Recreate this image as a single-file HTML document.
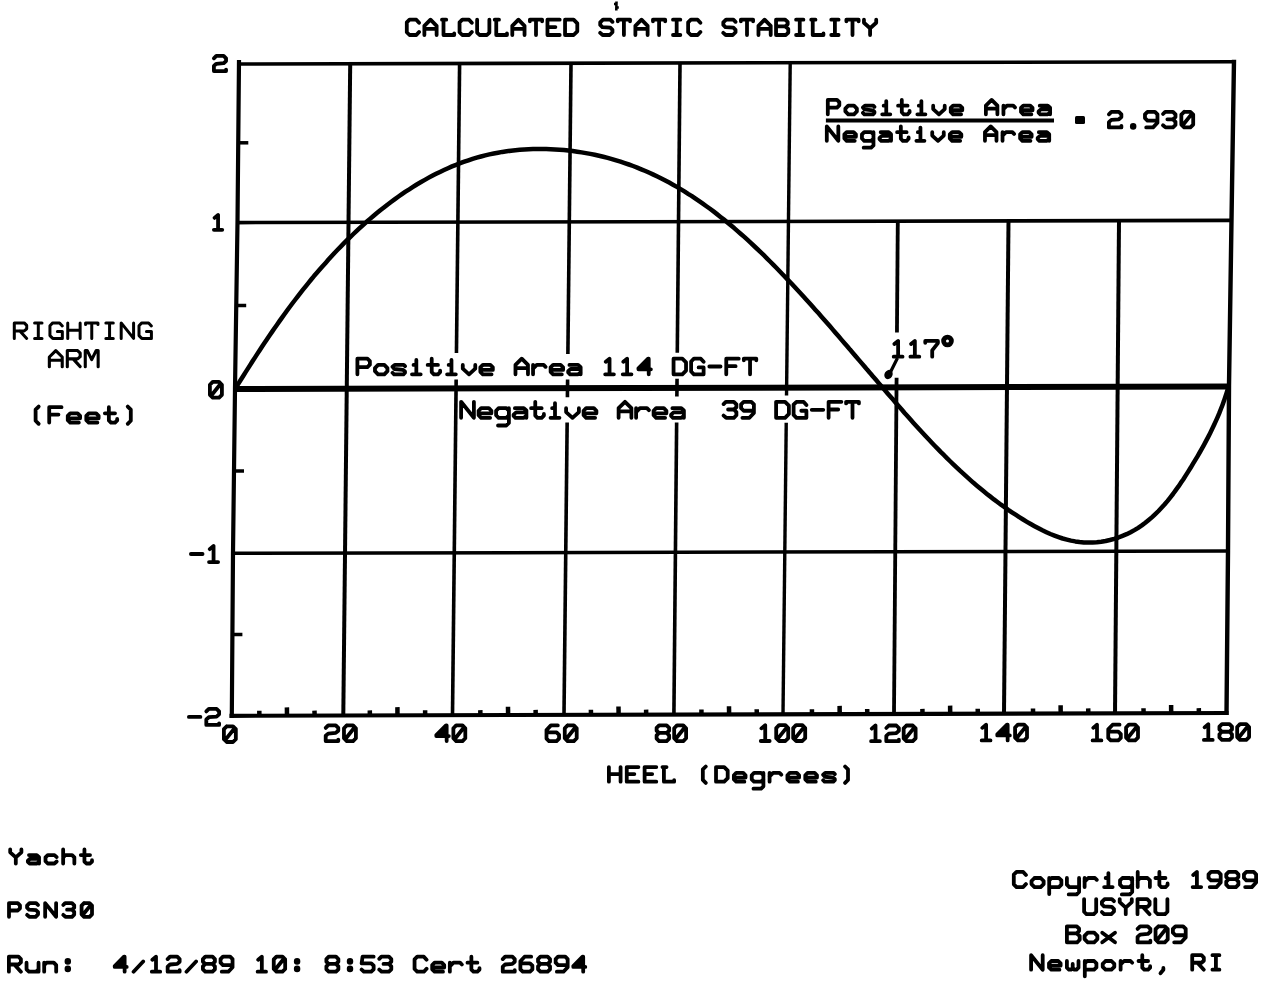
<!DOCTYPE html>
<html><head><meta charset="utf-8"><style>
html,body{margin:0;padding:0;background:#fff;width:1262px;height:987px;overflow:hidden}
svg{display:block;filter:grayscale(1)}
.t{font-family:"Liberation Mono",monospace;font-weight:normal;fill:#000;stroke:#000;stroke-linejoin:round}
.t text{vector-effect:non-scaling-stroke}
.t line{stroke:#000}
.s path{fill:none;stroke:#000;stroke-linecap:round;stroke-linejoin:round}
.h{font-family:"Liberation Mono",monospace;fill:#000;fill-opacity:0;white-space:pre}
</style></head><body>
<svg width="1262" height="987" viewBox="0 0 1262 987">
<rect width="1262" height="987" fill="#fff"/>
<g stroke="#000" stroke-linecap="butt">
<line x1="237" y1="64.0" x2="1236" y2="61.7" stroke-width="3.6"/><line x1="236" y1="222.6" x2="1232" y2="220.4" stroke-width="3.6"/><line x1="233" y1="389.0" x2="1231" y2="386.5" stroke-width="6.0"/><line x1="231" y1="553.3" x2="1229" y2="551.0" stroke-width="3.5"/><line x1="229.5" y1="715.8" x2="1228.5" y2="713.0" stroke-width="4.2"/><polyline fill="none" stroke-width="4.2" points="239,60 237.5,222 235,389 233,553 231.8,717.8"/><polyline fill="none" stroke-width="4.4" points="1234,59.8 1231.5,220 1229,386 1228,551 1226.5,715"/><line x1="350.2" y1="64" x2="343.3" y2="715" stroke-width="4.0"/><line x1="459.6" y1="64" x2="456.45" y2="353" stroke-width="3.6"/><line x1="456.16" y1="379.6" x2="452.5" y2="715" stroke-width="3.6"/><line x1="571.0" y1="64" x2="567.88" y2="354.1" stroke-width="3.6"/><line x1="567.61" y1="379.4" x2="567.42" y2="397.2" stroke-width="3.6"/><line x1="567.15" y1="422.5" x2="564.0" y2="715" stroke-width="3.6"/><line x1="680.0" y1="64" x2="677.29" y2="352.8" stroke-width="3.6"/><line x1="677.05" y1="378.8" x2="676.88" y2="396.6" stroke-width="3.6"/><line x1="676.64" y1="422.5" x2="673.9" y2="715" stroke-width="3.6"/><line x1="790.2" y1="64" x2="786.53" y2="395.6" stroke-width="3.4"/><line x1="786.23" y1="422.7" x2="783.0" y2="715" stroke-width="3.4"/><line x1="897.8" y1="221" x2="896.94" y2="332.4" stroke-width="3.8"/><line x1="896.59" y1="377.7" x2="894.0" y2="714" stroke-width="3.8"/><line x1="1008.5" y1="221" x2="1004.0" y2="714" stroke-width="4.0"/><line x1="1119.0" y1="221" x2="1115.0" y2="714" stroke-width="4.0"/>
<line x1="259.4" y1="715.7" x2="259.3" y2="710.7" stroke-width="4.5"/><line x1="287.0" y1="715.6" x2="286.9" y2="707.4" stroke-width="4.5"/><line x1="314.6" y1="715.6" x2="314.5" y2="710.6" stroke-width="4.5"/><line x1="369.9" y1="715.4" x2="369.8" y2="710.4" stroke-width="4.5"/><line x1="397.5" y1="715.3" x2="397.4" y2="707.1" stroke-width="4.5"/><line x1="425.2" y1="715.3" x2="425.1" y2="710.3" stroke-width="4.5"/><line x1="480.4" y1="715.1" x2="480.3" y2="710.1" stroke-width="4.5"/><line x1="508.1" y1="715.0" x2="508.0" y2="706.8" stroke-width="4.5"/><line x1="535.7" y1="714.9" x2="535.6" y2="709.9" stroke-width="4.5"/><line x1="591.0" y1="714.8" x2="590.9" y2="709.8" stroke-width="4.5"/><line x1="618.6" y1="714.7" x2="618.5" y2="706.5" stroke-width="4.5"/><line x1="646.2" y1="714.6" x2="646.1" y2="709.6" stroke-width="4.5"/><line x1="701.5" y1="714.5" x2="701.4" y2="709.5" stroke-width="4.5"/><line x1="729.1" y1="714.4" x2="729.0" y2="706.2" stroke-width="4.5"/><line x1="756.8" y1="714.3" x2="756.7" y2="709.3" stroke-width="4.5"/><line x1="812.0" y1="714.2" x2="811.9" y2="709.2" stroke-width="4.5"/><line x1="839.7" y1="714.1" x2="839.6" y2="705.9" stroke-width="4.5"/><line x1="867.3" y1="714.0" x2="867.2" y2="709.0" stroke-width="4.5"/><line x1="922.5" y1="713.9" x2="922.4" y2="708.9" stroke-width="4.5"/><line x1="950.2" y1="713.8" x2="950.1" y2="705.6" stroke-width="4.5"/><line x1="977.8" y1="713.7" x2="977.7" y2="708.7" stroke-width="4.5"/><line x1="1033.1" y1="713.5" x2="1033.0" y2="708.5" stroke-width="4.5"/><line x1="1060.7" y1="713.5" x2="1060.6" y2="705.3" stroke-width="4.5"/><line x1="1088.3" y1="713.4" x2="1088.2" y2="708.4" stroke-width="4.5"/><line x1="1143.6" y1="713.2" x2="1143.5" y2="708.2" stroke-width="4.5"/><line x1="1171.2" y1="713.2" x2="1171.1" y2="705.0" stroke-width="4.5"/><line x1="1198.9" y1="713.1" x2="1198.8" y2="708.1" stroke-width="4.5"/><line x1="238.3" y1="142.8" x2="248.3" y2="142.8" stroke-width="3.5"/><line x1="236.2" y1="305.5" x2="246.2" y2="305.5" stroke-width="3.5"/><line x1="234" y1="471" x2="244" y2="471" stroke-width="3.5"/><line x1="232.4" y1="634.5" x2="242.4" y2="634.5" stroke-width="3.5"/>
<path d="M235.7 388.0 L238.1 384.1 L240.5 380.3 L242.9 376.5 L245.3 372.6 L247.7 368.9 L250.1 365.1 L252.5 361.3 L254.9 357.6 L257.3 353.9 L259.7 350.2 L262.1 346.5 L264.6 342.8 L267.0 339.2 L269.5 335.5 L272.0 331.9 L274.5 328.3 L277.0 324.7 L279.5 321.1 L282.0 317.6 L284.6 314.0 L287.1 310.5 L289.7 307.0 L292.3 303.5 L295.0 300.0 L297.6 296.6 L300.3 293.1 L303.0 289.7 L305.7 286.3 L308.5 282.9 L311.2 279.5 L314.0 276.1 L316.9 272.8 L319.7 269.5 L322.6 266.2 L325.6 262.9 L328.5 259.6 L331.5 256.3 L334.5 253.0 L337.6 249.8 L340.7 246.6 L343.8 243.4 L347.0 240.2 L350.2 237.1 L353.4 234.0 L356.7 230.9 L359.9 227.9 L363.3 224.8 L366.6 221.8 L370.0 218.9 L373.4 216.0 L376.9 213.1 L380.3 210.3 L383.9 207.5 L387.4 204.7 L391.0 202.0 L394.6 199.4 L398.2 196.8 L401.9 194.2 L405.5 191.7 L409.3 189.3 L413.0 186.9 L416.8 184.5 L420.6 182.3 L424.4 180.1 L428.3 177.9 L432.2 175.8 L436.1 173.8 L440.0 171.9 L444.0 170.0 L448.0 168.2 L452.0 166.4 L456.1 164.8 L460.2 163.2 L464.3 161.7 L468.4 160.3 L472.6 158.9 L476.7 157.7 L481.0 156.5 L485.2 155.4 L489.4 154.4 L493.7 153.5 L498.0 152.7 L502.3 151.9 L506.7 151.3 L511.0 150.7 L515.4 150.2 L519.8 149.8 L524.2 149.5 L528.6 149.2 L533.0 149.0 L537.4 149.0 L541.8 149.0 L546.2 149.0 L550.6 149.2 L555.1 149.4 L559.5 149.7 L563.9 150.1 L568.3 150.5 L572.8 151.1 L577.2 151.7 L581.6 152.4 L585.9 153.1 L590.3 153.9 L594.7 154.8 L599.0 155.8 L603.3 156.8 L607.7 157.9 L612.0 159.1 L616.2 160.4 L620.5 161.7 L624.7 163.1 L628.9 164.5 L633.1 166.0 L637.2 167.6 L641.3 169.3 L645.4 171.0 L649.4 172.8 L653.4 174.6 L657.4 176.5 L661.4 178.5 L665.3 180.5 L669.2 182.6 L673.0 184.7 L676.9 186.9 L680.6 189.1 L684.4 191.4 L688.1 193.8 L691.9 196.1 L695.5 198.6 L699.2 201.1 L702.8 203.6 L706.4 206.2 L710.0 208.8 L713.5 211.4 L717.0 214.1 L720.5 216.9 L724.0 219.6 L727.4 222.4 L730.8 225.3 L734.2 228.1 L737.6 231.1 L740.9 234.0 L744.3 236.9 L747.6 239.9 L750.8 242.9 L754.1 246.0 L757.3 249.0 L760.6 252.1 L763.8 255.2 L766.9 258.3 L770.1 261.5 L773.2 264.6 L776.3 267.8 L779.4 271.0 L782.5 274.2 L785.6 277.4 L788.6 280.6 L791.7 283.8 L794.7 287.1 L797.7 290.3 L800.7 293.5 L803.7 296.8 L806.6 300.0 L809.6 303.3 L812.5 306.6 L815.5 309.9 L818.4 313.1 L821.3 316.4 L824.2 319.7 L827.1 323.0 L830.0 326.3 L832.8 329.6 L835.7 333.0 L838.6 336.3 L841.4 339.6 L844.3 342.9 L847.2 346.2 L850.0 349.6 L852.9 352.9 L855.7 356.2 L858.6 359.6 L861.4 362.9 L864.3 366.2 L867.1 369.6 L870.0 372.9 L872.8 376.3 L875.7 379.6 L878.5 382.9 L881.4 386.3 L884.3 389.6 L887.2 393.0 L890.1 396.3 L893.0 399.6 L895.9 403.0 L898.8 406.3 L901.7 409.6 L904.6 413.0 L907.6 416.3 L910.5 419.6 L913.5 422.9 L916.5 426.2 L919.5 429.5 L922.5 432.7 L925.5 436.0 L928.6 439.3 L931.6 442.5 L934.7 445.7 L937.8 448.9 L940.9 452.1 L944.1 455.2 L947.2 458.4 L950.4 461.5 L953.6 464.6 L956.8 467.6 L960.0 470.7 L963.3 473.7 L966.6 476.7 L969.9 479.6 L973.2 482.6 L976.6 485.4 L980.0 488.3 L983.4 491.1 L986.9 493.9 L990.4 496.6 L993.9 499.4 L997.4 502.0 L1001.0 504.7 L1004.6 507.2 L1008.2 509.8 L1011.9 512.3 L1015.6 514.7 L1019.3 517.1 L1023.1 519.5 L1026.9 521.8 L1030.7 524.0 L1034.6 526.2 L1038.5 528.3 L1042.4 530.3 L1046.4 532.2 L1050.4 534.0 L1054.5 535.6 L1058.6 537.1 L1062.7 538.5 L1066.9 539.6 L1071.0 540.6 L1075.3 541.4 L1079.5 542.0 L1083.8 542.4 L1088.1 542.6 L1092.5 542.5 L1096.8 542.2 L1101.2 541.7 L1105.6 541.0 L1109.9 540.0 L1114.2 538.8 L1118.4 537.5 L1122.5 535.9 L1126.6 534.2 L1130.6 532.2 L1134.4 530.1 L1138.2 527.8 L1141.8 525.4 L1145.3 522.8 L1148.7 520.0 L1152.1 517.1 L1155.3 514.1 L1158.5 511.0 L1161.5 507.8 L1164.5 504.5 L1167.4 501.1 L1170.2 497.6 L1173.0 494.0 L1175.6 490.4 L1178.3 486.7 L1180.8 482.9 L1183.4 479.2 L1185.8 475.4 L1188.2 471.6 L1190.6 467.8 L1192.9 463.9 L1195.2 460.1 L1197.5 456.3 L1199.7 452.5 L1201.9 448.6 L1204.0 444.8 L1206.1 440.9 L1208.1 437.1 L1210.1 433.2 L1212.0 429.3 L1213.9 425.3 L1215.7 421.4 L1217.5 417.4 L1219.2 413.4 L1220.8 409.3 L1222.4 405.2 L1223.9 401.1 L1225.3 396.9 L1226.7 392.7 L1228.0 388.5" fill="none" stroke-width="4.5" stroke-linejoin="round"/>
<path d="M897.5 358 L889 375" stroke-width="3.2" fill="none"/><ellipse cx="888.5" cy="374.5" rx="4" ry="4.8" transform="rotate(30 888.5 374.5)" stroke="none" fill="#000"/><rect x="1075" y="116" width="10" height="8" rx="1.5" fill="#000" stroke="none"/><line x1="825.9" y1="120.4" x2="1054" y2="120.4" stroke-width="4.0"/><circle cx="947.5" cy="341" r="3.9" fill="none" stroke-width="4.8"/><path d="M616.5 1.5 L616.3 10.5 M614 4 L616.5 4 M616.5 7.5 L618.8 7.5" stroke-width="2.6" fill="none"/>
</g>
<g class="s"><path d="M419.04 22.76 L416.29 19.70 L409.55 19.70 L406.80 22.45 L406.80 32.25 L409.55 35.00 L416.29 35.00 L419.04 31.94 M424.38 35.00 L424.38 25.82 L430.50 19.70 L436.62 25.82 L436.62 35.00 M424.38 28.88 L436.62 28.88 M441.97 19.70 L446.25 19.70 M443.50 19.70 L443.50 35.00 L454.21 35.00 L454.21 33.47 M471.79 22.76 L469.04 19.70 L462.30 19.70 L459.55 22.45 L459.55 32.25 L462.30 35.00 L469.04 35.00 L471.79 31.94 M477.13 19.70 L477.13 32.55 L479.58 35.00 L486.92 35.00 L489.37 32.55 L489.37 19.70 M494.72 19.70 L499.00 19.70 M496.25 19.70 L496.25 35.00 L506.96 35.00 L506.96 33.47 M512.30 35.00 L512.30 25.82 L518.42 19.70 L524.54 25.82 L524.54 35.00 M512.30 28.88 L524.54 28.88 M529.88 21.23 L529.88 19.70 L542.12 19.70 L542.12 21.23 M536.00 19.70 L536.00 35.00 M559.70 19.70 L547.46 19.70 L547.46 35.00 L559.70 35.00 M547.46 27.04 L555.42 27.04 M565.05 35.00 L565.05 19.70 L573.62 19.70 L577.29 23.37 L577.29 31.33 L573.62 35.00 L565.05 35.00 M612.45 21.84 L610.31 19.70 L602.97 19.70 L600.21 22.45 L600.21 24.90 L602.36 27.04 L610.31 27.66 L612.45 29.80 L612.45 32.25 L609.70 35.00 L602.66 35.00 L600.21 32.86 M617.80 21.23 L617.80 19.70 L630.04 19.70 L630.04 21.23 M623.92 19.70 L623.92 35.00 M635.38 35.00 L635.38 25.82 L641.50 19.70 L647.62 25.82 L647.62 35.00 M635.38 28.88 L647.62 28.88 M652.96 21.23 L652.96 19.70 L665.20 19.70 L665.20 21.23 M659.08 19.70 L659.08 35.00 M672.99 19.70 L680.34 19.70 M676.67 19.70 L676.67 35.00 M672.99 35.00 L680.34 35.00 M700.37 22.76 L697.62 19.70 L690.88 19.70 L688.13 22.45 L688.13 32.25 L690.88 35.00 L697.62 35.00 L700.37 31.94 M735.54 21.84 L733.39 19.70 L726.05 19.70 L723.30 22.45 L723.30 24.90 L725.44 27.04 L733.39 27.66 L735.54 29.80 L735.54 32.25 L732.78 35.00 L725.74 35.00 L723.30 32.86 M740.88 21.23 L740.88 19.70 L753.12 19.70 L753.12 21.23 M747.00 19.70 L747.00 35.00 M758.46 35.00 L758.46 25.82 L764.58 19.70 L770.70 25.82 L770.70 35.00 M758.46 28.88 L770.70 28.88 M776.04 35.00 L776.04 19.70 L785.22 19.70 L787.67 21.84 L787.67 24.29 L785.22 26.43 L776.04 26.43 M785.22 26.43 L788.28 28.88 L788.28 32.55 L785.84 35.00 L776.04 35.00 M796.08 19.70 L803.42 19.70 M799.75 19.70 L799.75 35.00 M796.08 35.00 L803.42 35.00 M811.21 19.70 L815.49 19.70 M812.74 19.70 L812.74 35.00 L823.45 35.00 L823.45 33.47 M831.24 19.70 L838.59 19.70 M834.91 19.70 L834.91 35.00 M831.24 35.00 L838.59 35.00 M846.38 21.23 L846.38 19.70 L858.62 19.70 L858.62 21.23 M852.50 19.70 L852.50 35.00 M863.96 19.70 L863.96 22.76 L870.08 28.27 L876.20 22.76 L876.20 19.70 M870.08 28.27 L870.08 35.00" stroke-width="3.80"/></g><text class="h" x="404.9" y="36.9" font-size="29.0" textLength="473.2" lengthAdjust="spacingAndGlyphs" xml:space="preserve">CALCULATED STATIC STABILITY</text><g class="s"><path d="M213.90 58.33 L216.33 55.90 L223.63 55.90 L226.06 58.33 L226.06 61.07 L223.63 63.20 L216.33 63.80 L213.90 65.93 L213.90 71.10 L226.06 71.10 L226.06 69.58" stroke-width="3.80"/></g><text class="h" x="212.0" y="73.0" font-size="28.8" textLength="16.0" lengthAdjust="spacingAndGlyphs" xml:space="preserve">2</text><g class="s"><path d="M214.50 217.88 L218.07 214.90 L218.07 229.80 M213.90 229.80 L222.24 229.80" stroke-width="3.80"/></g><text class="h" x="212.0" y="231.7" font-size="28.4" textLength="12.0" lengthAdjust="spacingAndGlyphs" xml:space="preserve">1</text><g class="s"><path d="M212.74 381.90 L219.06 381.90 L221.91 384.74 L221.91 394.86 L219.06 397.70 L212.74 397.70 L209.90 394.86 L209.90 384.74 L212.74 381.90 M212.11 394.54 L219.70 385.06" stroke-width="3.80"/></g><text class="h" x="208.0" y="399.6" font-size="29.8" textLength="15.7" lengthAdjust="spacingAndGlyphs" xml:space="preserve">0</text><g class="s"><path d="M190.90 554.00 L202.56 554.00 M209.68 549.14 L213.56 545.90 L213.56 562.10 M209.03 562.10 L218.10 562.10" stroke-width="3.80"/></g><text class="h" x="189.0" y="564.0" font-size="30.4" textLength="31.0" lengthAdjust="spacingAndGlyphs" xml:space="preserve">-1</text><g class="s"><path d="M188.90 716.90 L200.42 716.90 M206.30 711.46 L208.86 708.90 L216.54 708.90 L219.10 711.46 L219.10 714.34 L216.54 716.58 L208.86 717.22 L206.30 719.46 L206.30 724.90 L219.10 724.90 L219.10 723.30" stroke-width="3.80"/></g><text class="h" x="187.0" y="726.8" font-size="30.1" textLength="34.0" lengthAdjust="spacingAndGlyphs" xml:space="preserve">-2</text><g class="s"><path d="M226.73 726.30 L233.01 726.30 L235.83 729.13 L235.83 739.17 L233.01 742.00 L226.73 742.00 L223.90 739.17 L223.90 729.13 L226.73 726.30 M226.10 738.86 L233.63 729.44" stroke-width="3.80"/></g><text class="h" x="222.0" y="743.9" font-size="29.6" textLength="15.0" lengthAdjust="spacingAndGlyphs" xml:space="preserve">0</text><g class="s"><path d="M325.70 727.91 L328.21 725.40 L335.75 725.40 L338.26 727.91 L338.26 730.74 L335.75 732.94 L328.21 733.56 L325.70 735.76 L325.70 741.10 L338.26 741.10 L338.26 739.53 M346.79 725.40 L353.07 725.40 L355.90 728.23 L355.90 738.27 L353.07 741.10 L346.79 741.10 L343.97 738.27 L343.97 728.23 L346.79 725.40 M346.17 737.96 L353.70 728.54" stroke-width="3.80"/></g><text class="h" x="323.8" y="743.0" font-size="29.6" textLength="34.0" lengthAdjust="spacingAndGlyphs" xml:space="preserve">20</text><g class="s"><path d="M446.66 741.10 L446.66 725.40 L446.03 725.40 L436.30 735.13 L436.30 736.08 L448.86 736.08 M439.44 734.51 L446.03 727.91 M440.70 733.88 L446.35 733.88 M443.21 731.37 L446.35 731.37 M456.19 725.40 L462.47 725.40 L465.30 728.23 L465.30 738.27 L462.47 741.10 L456.19 741.10 L453.37 738.27 L453.37 728.23 L456.19 725.40 M455.57 737.96 L463.10 728.54" stroke-width="3.80"/></g><text class="h" x="434.4" y="743.0" font-size="29.6" textLength="32.8" lengthAdjust="spacingAndGlyphs" xml:space="preserve">40</text><g class="s"><path d="M557.80 725.40 L550.90 725.40 L546.50 730.11 L546.50 738.59 L549.01 741.10 L556.55 741.10 L559.06 738.59 L559.06 734.82 L556.55 732.31 L546.50 732.31 M567.59 725.40 L573.87 725.40 L576.70 728.23 L576.70 738.27 L573.87 741.10 L567.59 741.10 L564.77 738.27 L564.77 728.23 L567.59 725.40 M566.97 737.96 L574.50 728.54" stroke-width="3.80"/></g><text class="h" x="544.6" y="743.0" font-size="29.6" textLength="34.0" lengthAdjust="spacingAndGlyphs" xml:space="preserve">60</text><g class="s"><path d="M659.11 732.94 L656.60 730.74 L656.60 727.91 L659.11 725.40 L666.65 725.40 L669.16 727.91 L669.16 730.74 L666.65 732.94 L659.11 732.94 L656.60 735.45 L656.60 738.59 L659.11 741.10 L666.65 741.10 L669.16 738.59 L669.16 735.45 L666.65 732.94 M676.99 725.40 L683.27 725.40 L686.10 728.23 L686.10 738.27 L683.27 741.10 L676.99 741.10 L674.17 738.27 L674.17 728.23 L676.99 725.40 M676.37 737.96 L683.90 728.54" stroke-width="3.80"/></g><text class="h" x="654.7" y="743.0" font-size="29.6" textLength="33.3" lengthAdjust="spacingAndGlyphs" xml:space="preserve">80</text><g class="s"><path d="M761.43 728.36 L765.22 725.20 L765.22 741.00 M760.80 741.00 L769.65 741.00 M779.05 725.20 L785.37 725.20 L788.21 728.04 L788.21 738.16 L785.37 741.00 L779.05 741.00 L776.21 738.16 L776.21 728.04 L779.05 725.20 M778.42 737.84 L786.00 728.36 M796.04 725.20 L802.36 725.20 L805.20 728.04 L805.20 738.16 L802.36 741.00 L796.04 741.00 L793.19 738.16 L793.19 728.04 L796.04 725.20 M795.40 737.84 L802.99 728.36" stroke-width="3.80"/></g><text class="h" x="758.9" y="742.9" font-size="29.8" textLength="48.2" lengthAdjust="spacingAndGlyphs" xml:space="preserve">100</text><g class="s"><path d="M871.73 728.64 L875.50 725.50 L875.50 741.20 M871.10 741.20 L879.89 741.20 M886.29 728.01 L888.80 725.50 L896.33 725.50 L898.85 728.01 L898.85 730.84 L896.33 733.04 L888.80 733.66 L886.29 735.86 L886.29 741.20 L898.85 741.20 L898.85 739.63 M906.49 725.50 L912.77 725.50 L915.60 728.33 L915.60 738.37 L912.77 741.20 L906.49 741.20 L903.67 738.37 L903.67 728.33 L906.49 725.50 M905.87 738.06 L913.40 728.64" stroke-width="3.80"/></g><text class="h" x="869.2" y="743.1" font-size="29.6" textLength="48.3" lengthAdjust="spacingAndGlyphs" xml:space="preserve">120</text><g class="s"><path d="M982.33 727.84 L986.10 724.70 L986.10 740.40 M981.70 740.40 L990.49 740.40 M1007.65 740.40 L1007.65 724.70 L1007.02 724.70 L997.28 734.43 L997.28 735.38 L1009.84 735.38 M1000.42 733.81 L1007.02 727.21 M1001.68 733.18 L1007.33 733.18 M1004.19 730.67 L1007.33 730.67 M1017.89 724.70 L1024.17 724.70 L1027.00 727.53 L1027.00 737.57 L1024.17 740.40 L1017.89 740.40 L1015.07 737.57 L1015.07 727.53 L1017.89 724.70 M1017.27 737.26 L1024.80 727.84" stroke-width="3.80"/></g><text class="h" x="979.8" y="742.3" font-size="29.6" textLength="49.1" lengthAdjust="spacingAndGlyphs" xml:space="preserve">140</text><g class="s"><path d="M1093.23 727.84 L1097.00 724.70 L1097.00 740.40 M1092.60 740.40 L1101.39 740.40 M1119.54 724.70 L1112.63 724.70 L1108.24 729.41 L1108.24 737.89 L1110.75 740.40 L1118.28 740.40 L1120.80 737.89 L1120.80 734.12 L1118.28 731.61 L1108.24 731.61 M1128.89 724.70 L1135.17 724.70 L1138.00 727.53 L1138.00 737.57 L1135.17 740.40 L1128.89 740.40 L1126.07 737.57 L1126.07 727.53 L1128.89 724.70 M1128.27 737.26 L1135.80 727.84" stroke-width="3.80"/></g><text class="h" x="1090.7" y="742.3" font-size="29.6" textLength="49.2" lengthAdjust="spacingAndGlyphs" xml:space="preserve">160</text><g class="s"><path d="M1204.53 727.34 L1208.30 724.20 L1208.30 739.90 M1203.90 739.90 L1212.69 739.90 M1221.95 731.74 L1219.43 729.54 L1219.43 726.71 L1221.95 724.20 L1229.48 724.20 L1231.99 726.71 L1231.99 729.54 L1229.48 731.74 L1221.95 731.74 L1219.43 734.25 L1219.43 737.39 L1221.95 739.90 L1229.48 739.90 L1231.99 737.39 L1231.99 734.25 L1229.48 731.74 M1239.99 724.20 L1246.27 724.20 L1249.10 727.03 L1249.10 737.07 L1246.27 739.90 L1239.99 739.90 L1237.17 737.07 L1237.17 727.03 L1239.99 724.20 M1239.37 736.76 L1246.90 727.34" stroke-width="3.80"/></g><text class="h" x="1202.0" y="741.8" font-size="29.6" textLength="49.0" lengthAdjust="spacingAndGlyphs" xml:space="preserve">180</text><g class="s"><path d="M14.30 338.40 L14.30 322.90 L24.22 322.90 L26.70 325.38 L26.70 328.79 L24.22 330.96 L14.30 330.96 M19.88 330.96 L26.70 338.40 M34.59 322.90 L42.03 322.90 M38.31 322.90 L38.31 338.40 M34.59 338.40 L42.03 338.40 M62.33 326.00 L59.54 322.90 L52.72 322.90 L49.93 325.69 L49.93 335.61 L52.72 338.40 L62.33 338.40 L62.33 331.58 L57.37 331.58 M67.74 338.40 L67.74 322.90 M80.14 338.40 L80.14 322.90 M67.74 330.34 L80.14 330.34 M85.56 324.45 L85.56 322.90 L97.96 322.90 L97.96 324.45 M91.76 322.90 L91.76 338.40 M105.85 322.90 L113.29 322.90 M109.57 322.90 L109.57 338.40 M105.85 338.40 L113.29 338.40 M121.19 338.40 L121.19 322.90 L133.59 338.40 L133.59 322.90 M151.40 326.00 L148.61 322.90 L141.79 322.90 L139.00 325.69 L139.00 335.61 L141.79 338.40 L151.40 338.40 L151.40 331.58 L146.44 331.58" stroke-width="3.00"/></g><text class="h" x="12.8" y="339.9" font-size="28.1" textLength="140.1" lengthAdjust="spacingAndGlyphs" xml:space="preserve">RIGHTING</text><g class="s"><path d="M49.35 366.65 L49.35 356.99 L55.79 350.55 L62.23 356.99 L62.23 366.65 M49.35 360.21 L62.23 360.21 M67.31 366.65 L67.31 350.55 L77.61 350.55 L80.19 353.13 L80.19 356.67 L77.61 358.92 L67.31 358.92 M73.11 358.92 L80.19 366.65 M85.27 366.65 L85.27 350.55 L87.20 350.55 L91.71 359.57 L96.22 350.55 L98.15 350.55 L98.15 366.65" stroke-width="3.10"/></g><text class="h" x="47.8" y="368.2" font-size="29.1" textLength="51.9" lengthAdjust="spacingAndGlyphs" xml:space="preserve">ARM</text><g class="s"><path d="M38.68 406.58 L35.60 409.66 L35.60 420.75 L38.68 423.83 M61.54 407.20 L49.22 407.20 L49.22 422.60 M49.22 414.59 L58.46 414.59 M68.38 418.29 L80.09 418.29 L80.09 415.82 L77.62 413.36 L70.23 413.36 L67.77 415.82 L67.77 420.14 L70.23 422.60 L78.85 422.60 M86.93 418.29 L98.63 418.29 L98.63 415.82 L96.17 413.36 L88.78 413.36 L86.31 415.82 L86.31 420.14 L88.78 422.60 L97.40 422.60 M108.86 407.20 L108.86 420.44 L111.02 422.60 L115.02 422.60 L117.18 420.44 L117.18 418.90 M104.86 413.36 L115.02 413.36 M127.72 406.58 L130.80 409.66 L130.80 420.75 L127.72 423.83" stroke-width="3.80"/></g><text class="h" x="33.7" y="424.5" font-size="29.1" textLength="99.0" lengthAdjust="spacingAndGlyphs" xml:space="preserve">(Feet)</text><g class="s"><path d="M608.90 781.70 L608.90 767.10 M620.58 781.70 L620.58 767.10 M608.90 774.11 L620.58 774.11 M638.43 767.10 L626.75 767.10 L626.75 781.70 L638.43 781.70 M626.75 774.11 L634.35 774.11 M656.29 767.10 L644.61 767.10 L644.61 781.70 L656.29 781.70 M644.61 774.11 L652.20 774.11 M662.46 767.10 L666.55 767.10 M663.92 767.10 L663.92 781.70 L674.14 781.70 L674.14 780.24 M705.76 766.52 L702.84 769.44 L702.84 779.95 L705.76 782.87 M716.02 781.70 L716.02 767.10 L724.20 767.10 L727.70 770.60 L727.70 778.20 L724.20 781.70 L716.02 781.70 M734.46 777.61 L745.55 777.61 L745.55 775.28 L743.22 772.94 L736.21 772.94 L733.87 775.28 L733.87 779.36 L736.21 781.70 L744.38 781.70 M763.41 772.94 L763.41 786.37 L761.07 788.71 L753.48 788.71 M763.41 775.28 L761.07 772.94 L754.06 772.94 L751.73 775.28 L751.73 779.36 L754.06 781.70 L761.07 781.70 L763.41 779.36 M769.58 772.94 L769.58 781.70 M769.58 776.44 L773.08 772.94 L779.51 772.94 L781.26 774.69 M788.02 777.61 L799.11 777.61 L799.11 775.28 L796.78 772.94 L789.77 772.94 L787.43 775.28 L787.43 779.36 L789.77 781.70 L797.94 781.70 M805.87 777.61 L816.97 777.61 L816.97 775.28 L814.63 772.94 L807.62 772.94 L805.29 775.28 L805.29 779.36 L807.62 781.70 L815.80 781.70 M834.82 774.11 L833.65 772.94 L825.18 772.94 L823.14 774.69 L824.89 776.74 L833.07 777.61 L834.82 779.07 L834.82 780.24 L833.36 781.70 L824.60 781.70 L823.14 780.24 M845.08 766.52 L848.00 769.44 L848.00 779.95 L845.08 782.87" stroke-width="3.80"/></g><text class="h" x="607.0" y="783.6" font-size="27.9" textLength="242.9" lengthAdjust="spacingAndGlyphs" xml:space="preserve">HEEL (Degrees)</text><g class="s"><path d="M827.80 114.30 L827.80 99.90 L837.02 99.90 L839.32 102.20 L839.32 105.37 L837.02 107.68 L827.80 107.68 M848.25 105.66 L854.00 105.66 L856.88 108.54 L856.88 111.42 L854.00 114.30 L848.25 114.30 L845.37 111.42 L845.37 108.54 L848.25 105.66 M874.45 106.81 L873.30 105.66 L864.95 105.66 L862.93 107.39 L864.66 109.40 L872.72 110.27 L874.45 111.71 L874.45 112.86 L873.01 114.30 L864.37 114.30 L862.93 112.86 M886.25 101.05 L886.25 114.30 M883.66 105.66 L886.25 105.66 M882.22 114.30 L890.29 114.30 M901.80 99.90 L901.80 112.28 L903.82 114.30 L907.56 114.30 L909.58 112.28 L909.58 110.84 M898.06 105.66 L907.56 105.66 M921.38 101.05 L921.38 114.30 M918.79 105.66 L921.38 105.66 M917.35 114.30 L925.42 114.30 M933.19 105.66 L933.19 109.12 L938.95 114.30 L944.71 109.12 L944.71 105.66 M951.33 110.27 L962.27 110.27 L962.27 107.96 L959.97 105.66 L953.06 105.66 L950.75 107.96 L950.75 112.00 L953.06 114.30 L961.12 114.30 M985.88 114.30 L985.88 105.66 L991.64 99.90 L997.40 105.66 L997.40 114.30 M985.88 108.54 L997.40 108.54 M1003.45 105.66 L1003.45 114.30 M1003.45 109.12 L1006.91 105.66 L1013.24 105.66 L1014.97 107.39 M1021.59 110.27 L1032.53 110.27 L1032.53 107.96 L1030.23 105.66 L1023.32 105.66 L1021.01 107.96 L1021.01 112.00 L1023.32 114.30 L1031.38 114.30 M1039.73 105.66 L1047.80 105.66 L1050.10 107.68 L1050.10 114.30 M1050.10 109.40 L1040.88 109.40 L1038.58 111.42 L1038.58 112.57 L1040.31 114.30 L1047.80 114.30 L1050.10 112.57" stroke-width="3.80"/></g><text class="h" x="825.9" y="116.2" font-size="27.6" textLength="226.1" lengthAdjust="spacingAndGlyphs" xml:space="preserve">Positive Area</text><g class="s"><path d="M826.80 140.80 L826.80 126.40 L838.32 140.80 L838.32 126.40 M844.95 136.77 L855.89 136.77 L855.89 134.46 L853.59 132.16 L846.68 132.16 L844.37 134.46 L844.37 138.50 L846.68 140.80 L854.74 140.80 M873.47 132.16 L873.47 145.41 L871.16 147.71 L863.67 147.71 M873.47 134.46 L871.16 132.16 L864.25 132.16 L861.95 134.46 L861.95 138.50 L864.25 140.80 L871.16 140.80 L873.47 138.50 M880.67 132.16 L888.74 132.16 L891.04 134.18 L891.04 140.80 M891.04 135.90 L881.82 135.90 L879.52 137.92 L879.52 139.07 L881.25 140.80 L888.74 140.80 L891.04 139.07 M900.84 126.40 L900.84 138.78 L902.85 140.80 L906.60 140.80 L908.61 138.78 L908.61 137.34 M897.09 132.16 L906.60 132.16 M920.43 127.55 L920.43 140.80 M917.83 132.16 L920.43 132.16 M916.39 140.80 L924.46 140.80 M932.24 132.16 L932.24 135.62 L938.00 140.80 L943.76 135.62 L943.76 132.16 M950.39 136.77 L961.33 136.77 L961.33 134.46 L959.03 132.16 L952.12 132.16 L949.81 134.46 L949.81 138.50 L952.12 140.80 L960.18 140.80 M984.96 140.80 L984.96 132.16 L990.72 126.40 L996.48 132.16 L996.48 140.80 M984.96 135.04 L996.48 135.04 M1002.53 132.16 L1002.53 140.80 M1002.53 135.62 L1005.99 132.16 L1012.33 132.16 L1014.05 133.89 M1020.68 136.77 L1031.63 136.77 L1031.63 134.46 L1029.32 132.16 L1022.41 132.16 L1020.11 134.46 L1020.11 138.50 L1022.41 140.80 L1030.47 140.80 M1038.83 132.16 L1046.90 132.16 L1049.20 134.18 L1049.20 140.80 M1049.20 135.90 L1039.98 135.90 L1037.68 137.92 L1037.68 139.07 L1039.41 140.80 L1046.90 140.80 L1049.20 139.07" stroke-width="3.80"/></g><text class="h" x="824.9" y="142.7" font-size="27.6" textLength="226.2" lengthAdjust="spacingAndGlyphs" xml:space="preserve">Negative Area</text><g class="s"><path d="M1108.90 114.30 L1111.40 111.80 L1118.88 111.80 L1121.38 114.30 L1121.38 117.10 L1118.88 119.29 L1111.40 119.91 L1108.90 122.10 L1108.90 127.40 L1121.38 127.40 L1121.38 125.84 M1157.45 120.54 L1147.46 120.54 L1144.97 118.04 L1144.97 114.30 L1147.46 111.80 L1154.95 111.80 L1157.45 114.30 L1157.45 122.72 L1153.08 127.40 L1146.21 127.40 M1163.00 113.98 L1165.18 111.80 L1172.98 111.80 L1175.48 114.30 L1175.48 117.10 L1172.98 119.29 L1167.37 119.29 M1172.98 119.29 L1175.48 121.78 L1175.48 124.90 L1172.98 127.40 L1165.50 127.40 L1163.00 125.22 M1184.15 111.80 L1190.39 111.80 L1193.20 114.61 L1193.20 124.59 L1190.39 127.40 L1184.15 127.40 L1181.34 124.59 L1181.34 114.61 L1184.15 111.80 M1183.53 124.28 L1191.02 114.92" stroke-width="3.80"/><path d="M1133.17 126.62 L1133.17 126.31" stroke-width="6.46"/></g><text class="h" x="1107.0" y="129.3" font-size="29.5" textLength="88.1" lengthAdjust="spacingAndGlyphs" xml:space="preserve">2.930</text><g class="s"><path d="M357.40 374.30 L357.40 358.70 L367.38 358.70 L369.88 361.20 L369.88 364.63 L367.38 367.12 L357.40 367.12 M378.08 364.94 L384.32 364.94 L387.44 368.06 L387.44 371.18 L384.32 374.30 L378.08 374.30 L374.96 371.18 L374.96 368.06 L378.08 364.94 M405.01 366.19 L403.76 364.94 L394.71 364.94 L392.53 366.81 L394.40 369.00 L403.14 369.93 L405.01 371.49 L405.01 372.74 L403.45 374.30 L394.09 374.30 L392.53 372.74 M416.33 359.95 L416.33 374.30 M413.53 364.94 L416.33 364.94 M411.97 374.30 L420.70 374.30 M431.71 358.70 L431.71 372.12 L433.90 374.30 L437.95 374.30 L440.14 372.12 L440.14 370.56 M427.66 364.94 L437.95 364.94 M451.46 359.95 L451.46 374.30 M448.65 364.94 L451.46 364.94 M447.09 374.30 L455.83 374.30 M462.79 364.94 L462.79 368.68 L469.03 374.30 L475.27 368.68 L475.27 364.94 M480.98 369.93 L492.83 369.93 L492.83 367.44 L490.34 364.94 L482.85 364.94 L480.35 367.44 L480.35 371.80 L482.85 374.30 L491.58 374.30 M515.48 374.30 L515.48 364.94 L521.72 358.70 L527.96 364.94 L527.96 374.30 M515.48 368.06 L527.96 368.06 M533.05 364.94 L533.05 374.30 M533.05 368.68 L536.79 364.94 L543.65 364.94 L545.53 366.81 M551.23 369.93 L563.09 369.93 L563.09 367.44 L560.59 364.94 L553.11 364.94 L550.61 367.44 L550.61 371.80 L553.11 374.30 L561.84 374.30 M569.42 364.94 L578.16 364.94 L580.65 367.12 L580.65 374.30 M580.65 369.00 L570.67 369.00 L568.17 371.18 L568.17 372.43 L570.05 374.30 L578.16 374.30 L580.65 372.43 M605.80 361.82 L609.54 358.70 L609.54 374.30 M605.18 374.30 L613.91 374.30 M623.36 361.82 L627.11 358.70 L627.11 374.30 M622.74 374.30 L631.48 374.30 M648.73 374.30 L648.73 358.70 L648.10 358.70 L638.43 368.37 L638.43 369.31 L650.91 369.31 M641.55 367.75 L648.10 361.20 M642.80 367.12 L648.42 367.12 M645.30 364.63 L648.42 364.63 M673.56 374.30 L673.56 358.70 L682.30 358.70 L686.04 362.44 L686.04 370.56 L682.30 374.30 L673.56 374.30 M703.61 361.82 L700.80 358.70 L693.93 358.70 L691.13 361.51 L691.13 371.49 L693.93 374.30 L703.61 374.30 L703.61 367.44 L698.61 367.44 M709.31 366.50 L720.55 366.50 M738.74 358.70 L726.26 358.70 L726.26 374.30 M726.26 366.19 L735.62 366.19 M743.82 360.26 L743.82 358.70 L756.30 358.70 L756.30 360.26 M750.06 358.70 L750.06 374.30" stroke-width="3.80"/></g><text class="h" x="355.5" y="376.2" font-size="29.5" textLength="402.7" lengthAdjust="spacingAndGlyphs" xml:space="preserve">Positive Area 114 DG-FT</text><g class="s"><path d="M461.10 417.80 L461.10 401.80 L473.90 417.80 L473.90 401.80 M479.24 413.32 L491.40 413.32 L491.40 410.76 L488.84 408.20 L481.16 408.20 L478.60 410.76 L478.60 415.24 L481.16 417.80 L490.12 417.80 M508.90 408.20 L508.90 422.92 L506.34 425.48 L498.02 425.48 M508.90 410.76 L506.34 408.20 L498.66 408.20 L496.10 410.76 L496.10 415.24 L498.66 417.80 L506.34 417.80 L508.90 415.24 M514.88 408.20 L523.84 408.20 L526.40 410.44 L526.40 417.80 M526.40 412.36 L516.16 412.36 L513.60 414.60 L513.60 415.88 L515.52 417.80 L523.84 417.80 L526.40 415.88 M535.26 401.80 L535.26 415.56 L537.50 417.80 L541.66 417.80 L543.90 415.56 L543.90 413.96 M531.10 408.20 L541.66 408.20 M555.00 403.08 L555.00 417.80 M552.12 408.20 L555.00 408.20 M550.52 417.80 L559.48 417.80 M566.10 408.20 L566.10 412.04 L572.50 417.80 L578.90 412.04 L578.90 408.20 M584.24 413.32 L596.40 413.32 L596.40 410.76 L593.84 408.20 L586.16 408.20 L583.60 410.76 L583.60 415.24 L586.16 417.80 L595.12 417.80 M618.60 417.80 L618.60 408.20 L625.00 401.80 L631.40 408.20 L631.40 417.80 M618.60 411.40 L631.40 411.40 M636.10 408.20 L636.10 417.80 M636.10 412.04 L639.94 408.20 L646.98 408.20 L648.90 410.12 M654.24 413.32 L666.40 413.32 L666.40 410.76 L663.84 408.20 L656.16 408.20 L653.60 410.76 L653.60 415.24 L656.16 417.80 L665.12 417.80 M672.38 408.20 L681.34 408.20 L683.90 410.44 L683.90 417.80 M683.90 412.36 L673.66 412.36 L671.10 414.60 L671.10 415.88 L673.02 417.80 L681.34 417.80 L683.90 415.88 M723.60 404.04 L725.84 401.80 L733.84 401.80 L736.40 404.36 L736.40 407.24 L733.84 409.48 L728.08 409.48 M733.84 409.48 L736.40 412.04 L736.40 415.24 L733.84 417.80 L726.16 417.80 L723.60 415.56 M753.90 410.76 L743.66 410.76 L741.10 408.20 L741.10 404.36 L743.66 401.80 L751.34 401.80 L753.90 404.36 L753.90 413.00 L749.42 417.80 L742.38 417.80 M776.10 417.80 L776.10 401.80 L785.06 401.80 L788.90 405.64 L788.90 413.96 L785.06 417.80 L776.10 417.80 M806.40 405.00 L803.52 401.80 L796.48 401.80 L793.60 404.68 L793.60 414.92 L796.48 417.80 L806.40 417.80 L806.40 410.76 L801.28 410.76 M811.74 409.80 L823.26 409.80 M841.40 401.80 L828.60 401.80 L828.60 417.80 M828.60 409.48 L838.20 409.48 M846.10 403.40 L846.10 401.80 L858.90 401.80 L858.90 403.40 M852.50 401.80 L852.50 417.80" stroke-width="3.80"/></g><text class="h" x="459.2" y="419.7" font-size="30.1" textLength="401.6" lengthAdjust="spacingAndGlyphs" xml:space="preserve">Negative Area  39 DG-FT</text><g class="s"><path d="M894.33 344.06 L898.12 340.90 L898.12 356.70 M893.70 356.70 L902.55 356.70 M911.06 344.06 L914.85 340.90 L914.85 356.70 M910.43 356.70 L919.28 356.70 M925.26 342.80 L925.26 340.90 L937.90 340.90 L937.90 343.11 L932.21 350.38 L932.21 356.70" stroke-width="3.80"/></g><text class="h" x="891.8" y="358.6" font-size="29.8" textLength="48.0" lengthAdjust="spacingAndGlyphs" xml:space="preserve">117</text><g class="s"><path d="M10.20 849.50 L10.20 852.30 L15.80 857.34 L21.40 852.30 L21.40 849.50 M15.80 857.34 L15.80 863.50 M28.97 855.10 L36.81 855.10 L39.05 857.06 L39.05 863.50 M39.05 858.74 L30.09 858.74 L27.85 860.70 L27.85 861.82 L29.53 863.50 L36.81 863.50 L39.05 861.82 M56.70 857.06 L54.46 855.10 L47.74 855.10 L45.50 857.34 L45.50 861.26 L47.74 863.50 L54.46 863.50 L56.70 861.54 M63.15 849.50 L63.15 863.50 M63.15 857.34 L65.39 855.10 L72.11 855.10 L74.35 857.34 L74.35 863.50 M84.44 849.50 L84.44 861.54 L86.40 863.50 L90.04 863.50 L92.00 861.54 L92.00 860.14 M80.80 855.10 L90.04 855.10" stroke-width="3.80"/></g><text class="h" x="8.3" y="865.4" font-size="27.0" textLength="85.6" lengthAdjust="spacingAndGlyphs" xml:space="preserve">Yacht</text><g class="s"><path d="M9.00 916.80 L9.00 903.10 L17.77 903.10 L19.96 905.29 L19.96 908.31 L17.77 910.50 L9.00 910.50 M38.04 905.02 L36.12 903.10 L29.54 903.10 L27.08 905.57 L27.08 907.76 L29.00 909.68 L36.12 910.22 L38.04 912.14 L38.04 914.33 L35.57 916.80 L29.27 916.80 L27.08 914.88 M45.16 916.80 L45.16 903.10 L56.12 916.80 L56.12 903.10 M63.24 905.02 L65.15 903.10 L72.00 903.10 L74.20 905.29 L74.20 907.76 L72.00 909.68 L67.07 909.68 M72.00 909.68 L74.20 911.87 L74.20 914.61 L72.00 916.80 L65.43 916.80 L63.24 914.88 M84.05 903.10 L89.53 903.10 L92.00 905.57 L92.00 914.33 L89.53 916.80 L84.05 916.80 L81.59 914.33 L81.59 905.57 L84.05 903.10 M83.51 914.06 L90.08 905.84" stroke-width="3.80"/></g><text class="h" x="7.1" y="918.7" font-size="26.6" textLength="86.8" lengthAdjust="spacingAndGlyphs" xml:space="preserve">PSN30</text><g class="s"><path d="M8.90 971.70 L8.90 956.70 L18.50 956.70 L20.90 959.10 L20.90 962.40 L18.50 964.50 L8.90 964.50 M14.30 964.50 L20.90 971.70 M26.54 962.70 L26.54 969.30 L28.94 971.70 L36.14 971.70 L38.54 969.30 M38.54 962.70 L38.54 971.70 M44.18 962.70 L44.18 971.70 M44.18 965.10 L46.58 962.70 L53.78 962.70 L56.18 965.10 L56.18 971.70 M124.63 971.70 L124.63 956.70 L124.03 956.70 L114.73 966.00 L114.73 966.90 L126.73 966.90 M117.73 965.40 L124.03 959.10 M118.93 964.80 L124.33 964.80 M121.33 962.40 L124.33 962.40 M133.56 971.70 L143.16 961.50 M152.40 959.70 L156.00 956.70 L156.00 971.70 M151.80 971.70 L160.20 971.70 M167.64 959.10 L170.04 956.70 L177.24 956.70 L179.64 959.10 L179.64 961.80 L177.24 963.90 L170.04 964.50 L167.64 966.60 L167.64 971.70 L179.64 971.70 L179.64 970.20 M186.48 971.70 L196.08 961.50 M205.31 963.90 L202.91 961.80 L202.91 959.10 L205.31 956.70 L212.51 956.70 L214.91 959.10 L214.91 961.80 L212.51 963.90 L205.31 963.90 L202.91 966.30 L202.91 969.30 L205.31 971.70 L212.51 971.70 L214.91 969.30 L214.91 966.30 L212.51 963.90 M232.55 965.10 L222.95 965.10 L220.55 962.70 L220.55 959.10 L222.95 956.70 L230.15 956.70 L232.55 959.10 L232.55 967.20 L228.35 971.70 L221.75 971.70 M258.23 959.70 L261.83 956.70 L261.83 971.70 M257.63 971.70 L266.03 971.70 M276.46 956.70 L282.46 956.70 L285.16 959.40 L285.16 969.00 L282.46 971.70 L276.46 971.70 L273.76 969.00 L273.76 959.40 L276.46 956.70 M275.86 968.70 L283.06 959.70 M328.77 963.90 L326.38 961.80 L326.38 959.10 L328.77 956.70 L335.98 956.70 L338.38 959.10 L338.38 961.80 L335.98 963.90 L328.77 963.90 L326.38 966.30 L326.38 969.30 L328.77 971.70 L335.98 971.70 L338.38 969.30 L338.38 966.30 L335.98 963.90 M373.65 956.70 L362.55 956.70 L361.65 963.30 L371.25 963.30 L373.65 965.70 L373.65 969.30 L371.25 971.70 L364.05 971.70 L361.65 969.60 M379.29 958.80 L381.39 956.70 L388.89 956.70 L391.29 959.10 L391.29 961.80 L388.89 963.90 L383.49 963.90 M388.89 963.90 L391.29 966.30 L391.29 969.30 L388.89 971.70 L381.69 971.70 L379.29 969.60 M426.56 959.70 L423.86 956.70 L417.26 956.70 L414.56 959.40 L414.56 969.00 L417.26 971.70 L423.86 971.70 L426.56 968.70 M432.80 967.50 L444.20 967.50 L444.20 965.10 L441.80 962.70 L434.60 962.70 L432.20 965.10 L432.20 969.30 L434.60 971.70 L443.00 971.70 M449.84 962.70 L449.84 971.70 M449.84 966.30 L453.44 962.70 L460.04 962.70 L461.84 964.50 M471.38 956.70 L471.38 969.60 L473.48 971.70 L477.38 971.70 L479.48 969.60 L479.48 968.10 M467.48 962.70 L477.38 962.70 M502.75 959.10 L505.15 956.70 L512.35 956.70 L514.75 959.10 L514.75 961.80 L512.35 963.90 L505.15 964.50 L502.75 966.60 L502.75 971.70 L514.75 971.70 L514.75 970.20 M531.19 956.70 L524.59 956.70 L520.39 961.20 L520.39 969.30 L522.79 971.70 L529.99 971.70 L532.39 969.30 L532.39 965.70 L529.99 963.30 L520.39 963.30 M540.43 963.90 L538.03 961.80 L538.03 959.10 L540.43 956.70 L547.63 956.70 L550.03 959.10 L550.03 961.80 L547.63 963.90 L540.43 963.90 L538.03 966.30 L538.03 969.30 L540.43 971.70 L547.63 971.70 L550.03 969.30 L550.03 966.30 L547.63 963.90 M567.66 965.10 L558.06 965.10 L555.66 962.70 L555.66 959.10 L558.06 956.70 L565.26 956.70 L567.66 959.10 L567.66 967.20 L563.46 971.70 L556.86 971.70 M583.20 971.70 L583.20 956.70 L582.60 956.70 L573.30 966.00 L573.30 966.90 L585.30 966.90 M576.30 965.40 L582.60 959.10 M577.50 964.80 L582.90 964.80 M579.90 962.40 L582.90 962.40" stroke-width="3.80"/><path d="M67.81 969.00 L67.81 968.70 M67.81 961.50 L67.81 961.20 M297.10 969.00 L297.10 968.70 M297.10 961.50 L297.10 961.20 M350.01 969.00 L350.01 968.70 M350.01 961.50 L350.01 961.20" stroke-width="6.46"/></g><text class="h" x="7.0" y="973.6" font-size="28.5" textLength="580.2" lengthAdjust="spacingAndGlyphs" xml:space="preserve">Run:  4/12/89 10: 8:53 Cert 26894</text><g class="s"><path d="M1025.96 874.94 L1023.22 871.90 L1016.54 871.90 L1013.80 874.64 L1013.80 884.36 L1016.54 887.10 L1023.22 887.10 L1025.96 884.06 M1034.54 877.98 L1040.62 877.98 L1043.66 881.02 L1043.66 884.06 L1040.62 887.10 L1034.54 887.10 L1031.50 884.06 L1031.50 881.02 L1034.54 877.98 M1049.21 877.98 L1049.21 894.09 M1049.21 880.41 L1051.64 877.98 L1058.93 877.98 L1061.37 880.41 L1061.37 884.67 L1058.93 887.10 L1049.21 887.10 M1066.91 877.98 L1066.91 884.67 L1069.34 887.10 L1079.07 887.10 M1079.07 877.98 L1079.07 891.96 L1076.64 894.40 L1068.73 894.40 M1084.61 877.98 L1084.61 887.10 M1084.61 881.63 L1088.26 877.98 L1094.95 877.98 L1096.77 879.80 M1108.40 873.12 L1108.40 887.10 M1105.66 877.98 L1108.40 877.98 M1104.14 887.10 L1112.65 887.10 M1132.18 877.98 L1132.18 891.96 L1129.75 894.40 L1121.84 894.40 M1132.18 880.41 L1129.75 877.98 L1122.45 877.98 L1120.02 880.41 L1120.02 884.67 L1122.45 887.10 L1129.75 887.10 L1132.18 884.67 M1137.72 871.90 L1137.72 887.10 M1137.72 880.41 L1140.15 877.98 L1147.45 877.98 L1149.88 880.41 L1149.88 887.10 M1159.38 871.90 L1159.38 884.97 L1161.50 887.10 L1165.46 887.10 L1167.58 884.97 L1167.58 883.45 M1155.42 877.98 L1165.46 877.98 M1193.26 874.94 L1196.91 871.90 L1196.91 887.10 M1192.65 887.10 L1201.17 887.10 M1220.69 880.41 L1210.97 880.41 L1208.53 877.98 L1208.53 874.33 L1210.97 871.90 L1218.26 871.90 L1220.69 874.33 L1220.69 882.54 L1216.44 887.10 L1209.75 887.10 M1228.67 879.20 L1226.24 877.07 L1226.24 874.33 L1228.67 871.90 L1235.96 871.90 L1238.40 874.33 L1238.40 877.07 L1235.96 879.20 L1228.67 879.20 L1226.24 881.63 L1226.24 884.67 L1228.67 887.10 L1235.96 887.10 L1238.40 884.67 L1238.40 881.63 L1235.96 879.20 M1256.10 880.41 L1246.37 880.41 L1243.94 877.98 L1243.94 874.33 L1246.37 871.90 L1253.67 871.90 L1256.10 874.33 L1256.10 882.54 L1251.84 887.10 L1245.16 887.10" stroke-width="3.80"/></g><text class="h" x="1011.9" y="889.0" font-size="28.8" textLength="246.1" lengthAdjust="spacingAndGlyphs" xml:space="preserve">Copyright 1989</text><g class="s"><path d="M1084.10 899.10 L1084.10 911.78 L1086.52 914.20 L1093.76 914.20 L1096.18 911.78 L1096.18 899.10 M1113.99 901.21 L1111.87 899.10 L1104.62 899.10 L1101.91 901.82 L1101.91 904.23 L1104.02 906.35 L1111.87 906.95 L1113.99 909.07 L1113.99 911.48 L1111.27 914.20 L1104.32 914.20 L1101.91 912.09 M1119.71 899.10 L1119.71 902.12 L1125.75 907.56 L1131.79 902.12 L1131.79 899.10 M1125.75 907.56 L1125.75 914.20 M1137.51 914.20 L1137.51 899.10 L1147.18 899.10 L1149.59 901.52 L1149.59 904.84 L1147.18 906.95 L1137.51 906.95 M1142.95 906.95 L1149.59 914.20 M1155.32 899.10 L1155.32 911.78 L1157.74 914.20 L1164.98 914.20 L1167.40 911.78 L1167.40 899.10" stroke-width="3.80"/></g><text class="h" x="1082.2" y="916.1" font-size="28.7" textLength="87.1" lengthAdjust="spacingAndGlyphs" xml:space="preserve">USYRU</text><g class="s"><path d="M1066.90 942.30 L1066.90 926.30 L1076.50 926.30 L1079.06 928.54 L1079.06 931.10 L1076.50 933.34 L1066.90 933.34 M1076.50 933.34 L1079.70 935.90 L1079.70 939.74 L1077.14 942.30 L1066.90 942.30 M1087.77 932.70 L1094.17 932.70 L1097.37 935.90 L1097.37 939.10 L1094.17 942.30 L1087.77 942.30 L1084.57 939.10 L1084.57 935.90 L1087.77 932.70 M1102.23 932.70 L1115.03 942.30 M1102.23 942.30 L1115.03 932.70 M1137.57 928.86 L1140.13 926.30 L1147.81 926.30 L1150.37 928.86 L1150.37 931.74 L1147.81 933.98 L1140.13 934.62 L1137.57 936.86 L1137.57 942.30 L1150.37 942.30 L1150.37 940.70 M1158.43 926.30 L1164.83 926.30 L1167.71 929.18 L1167.71 939.42 L1164.83 942.30 L1158.43 942.30 L1155.55 939.42 L1155.55 929.18 L1158.43 926.30 M1157.79 939.10 L1165.47 929.50 M1185.70 935.26 L1175.46 935.26 L1172.90 932.70 L1172.90 928.86 L1175.46 926.30 L1183.14 926.30 L1185.70 928.86 L1185.70 937.50 L1181.22 942.30 L1174.18 942.30" stroke-width="3.80"/></g><text class="h" x="1065.0" y="944.2" font-size="30.1" textLength="122.6" lengthAdjust="spacingAndGlyphs" xml:space="preserve">Box 209</text><g class="s"><path d="M1031.10 969.70 L1031.10 955.20 L1042.70 969.70 L1042.70 955.20 M1049.58 965.64 L1060.60 965.64 L1060.60 963.32 L1058.28 961.00 L1051.32 961.00 L1049.00 963.32 L1049.00 967.38 L1051.32 969.70 L1059.44 969.70 M1066.90 961.00 L1066.90 967.67 L1068.93 969.70 L1070.96 969.70 L1072.70 967.67 L1072.70 963.90 M1072.70 967.67 L1074.44 969.70 L1076.47 969.70 L1078.50 967.67 L1078.50 961.00 M1084.81 961.00 L1084.81 976.37 M1084.81 963.32 L1087.13 961.00 L1094.09 961.00 L1096.41 963.32 L1096.41 967.38 L1094.09 969.70 L1084.81 969.70 M1105.61 961.00 L1111.41 961.00 L1114.31 963.90 L1114.31 966.80 L1111.41 969.70 L1105.61 969.70 L1102.71 966.80 L1102.71 963.90 L1105.61 961.00 M1120.61 961.00 L1120.61 969.70 M1120.61 964.48 L1124.09 961.00 L1130.47 961.00 L1132.21 962.74 M1142.28 955.20 L1142.28 967.67 L1144.31 969.70 L1148.08 969.70 L1150.11 967.67 L1150.11 966.22 M1138.51 961.00 L1148.08 961.00 M1163.37 967.96 L1163.37 969.70 L1160.47 973.18 M1192.22 969.70 L1192.22 955.20 L1201.50 955.20 L1203.82 957.52 L1203.82 960.71 L1201.50 962.74 L1192.22 962.74 M1197.44 962.74 L1203.82 969.70 M1212.44 955.20 L1219.40 955.20 M1215.92 955.20 L1215.92 969.70 M1212.44 969.70 L1219.40 969.70" stroke-width="3.80"/></g><text class="h" x="1029.2" y="971.6" font-size="27.8" textLength="192.1" lengthAdjust="spacingAndGlyphs" xml:space="preserve">Newport, RI</text>
</svg>
</body></html>
